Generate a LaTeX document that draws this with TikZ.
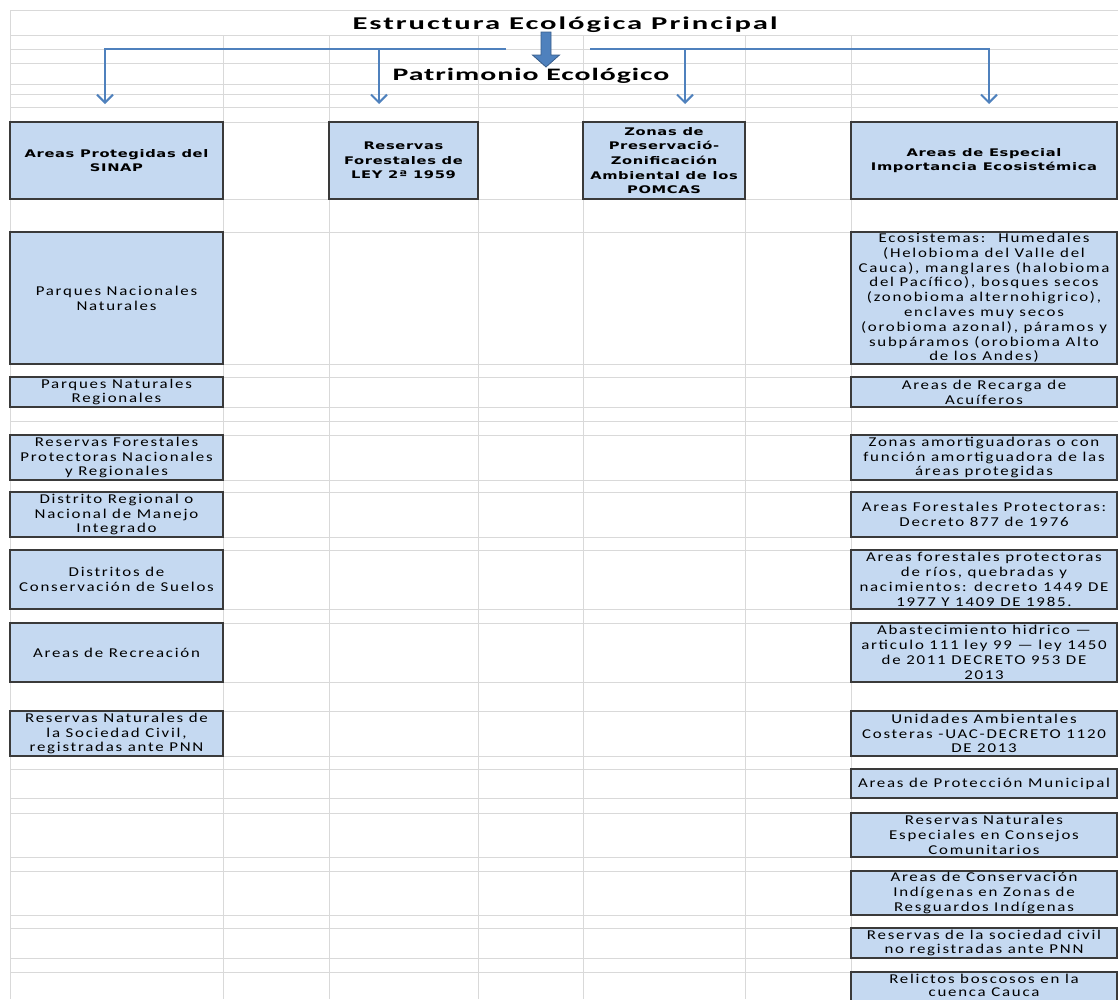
\documentclass[tikz,border=0pt]{standalone}
\usepackage{fontspec}
\usetikzlibrary{arrows.meta}
\newfontfamily\bodyfont[FakeStretch=1.25,LetterSpace=13]{Carlito}
\newfontfamily\headfont[FakeStretch=1.4,LetterSpace=6]{DejaVu Sans}
\newfontfamily\titlefont[FakeStretch=1.7,LetterSpace=11]{Carlito}
\newfontfamily\subtitlefont[FakeStretch=1.7,LetterSpace=5.5]{Carlito}
\definecolor{boxfill}{HTML}{C5D9F1}
\definecolor{boxline}{HTML}{3A3A3A}
\definecolor{gridc}{HTML}{D9D9D9}
\definecolor{connblue}{HTML}{4F81BD}
\definecolor{arrowdark}{HTML}{385D8A}
\begin{document}
\begin{tikzpicture}[x=1pt,y=-1pt,
  gridline/.style={gridc, line width=0.8pt},
  cell/.style={draw=boxline, fill=boxfill, line width=1.3pt, inner sep=0pt, outer sep=0pt, align=center, text=black},
  headcell/.style={cell, font=\headfont\bfseries\fontsize{10.5}{14.6}\selectfont},
  bodycell/.style={cell, font=\bodyfont\fontsize{13.5}{14.8}\selectfont},
  bodytext/.style={inner sep=0pt, align=center, text=black, font=\bodyfont\fontsize{13.5}{13.6}\selectfont},
  connector/.style={connblue, line width=2pt, -{Straight Barb[length=8pt,width=16pt]}}]
\useasboundingbox (0,0) rectangle (1118,999);
\clip (0,0) rectangle (1118,999);
% grid
\draw[gridline] (10,10) -- (1118,10);
\draw[gridline] (10,10) -- (10,999);
\foreach \y in {35,49,63,84,94,107,122,199,232,364,377,407,421,435,480,492,537,550,609,623,682,711,756,769,798,813,857,871,915,928,958,972}
  \draw[gridline] (10,\y) -- (1118,\y);
\foreach \x in {223,329,478,583,745,851}
  \draw[gridline] (\x,35) -- (\x,999);
% headers
\node[headcell, minimum width=213, minimum height=77] (h1) at (116.5,160.5) {Areas Protegidas del\\SINAP};
\node[headcell, minimum width=149, minimum height=77] (h2) at (403.5,160.5) {Reservas\\Forestales de\\LEY 2ª 1959};
\node[headcell, minimum width=162, minimum height=77] (h3) at (664,160.5) {Zonas de\\Preservació-\\Zonificación\\Ambiental de los\\POMCAS};
\node[headcell, minimum width=266, minimum height=77] (h4) at (984,160.5) {Areas de Especial\\Importancia Ecosistémica};
% left column
\node[bodycell, minimum width=213, minimum height=132] (l1) at (116.5,298) {Parques Nacionales\\Naturales};
\node[bodycell, minimum width=213, minimum height=30] (l2) at (116.5,392) {Parques Naturales\\Regionales};
\node[bodycell, minimum width=213, minimum height=45] (l3) at (116.5,457.5) {Reservas Forestales\\Protectoras Nacionales\\y Regionales};
\node[bodycell, minimum width=213, minimum height=45] (l4) at (116.5,514.5) {Distrito Regional o\\Nacional de Manejo\\Integrado};
\node[bodycell, minimum width=213, minimum height=59] (l5) at (116.5,579.5) {Distritos de\\Conservación de Suelos};
\node[bodycell, minimum width=213, minimum height=59] (l6) at (116.5,652.5) {Areas de Recreación};
\node[bodycell, minimum width=213, minimum height=45] (l7) at (116.5,733.5) {Reservas Naturales de\\la Sociedad Civil,\\registradas ante PNN};
% right column
\node[bodycell, minimum width=266, minimum height=132] (r1) at (984,298) {Ecosistemas:~ Humedales\\(Helobioma del Valle del\\Cauca), manglares (halobioma\\del Pacífico), bosques secos\\(zonobioma alternohigrico),\\enclaves muy secos\\(orobioma azonal), páramos y\\subpáramos (orobioma Alto\\de los Andes)};
\node[bodycell, minimum width=266, minimum height=30] (r2) at (984,392) {Areas de Recarga de\\Acuíferos};
\node[bodycell, minimum width=266, minimum height=45] (r3) at (984,457.5) {Zonas amortiguadoras o con\\función amortiguadora de las\\áreas protegidas};
\node[bodycell, minimum width=266, minimum height=45] (r4) at (984,514.5) {Areas Forestales Protectoras:\\Decreto 877 de 1976};
\node[bodycell, minimum width=266, minimum height=59] (r5) at (984,579.5) {Areas forestales protectoras\\de ríos, quebradas y\\nacimientos: decreto 1449 DE\\1977 Y 1409 DE 1985.};
\node[bodycell, minimum width=266, minimum height=59] (r6) at (984,652.5) {Abastecimiento hidrico —\\articulo 111 ley 99 — ley 1450\\de 2011 DECRETO 953 DE\\2013};
\node[bodycell, minimum width=266, minimum height=45] (r7) at (984,733.5) {Unidades Ambientales\\Costeras -UAC-DECRETO 1120\\DE 2013};
\node[bodycell, minimum width=266, minimum height=29] (r8) at (984,783.5) {Areas de Protección Municipal};
\node[bodycell, minimum width=266, minimum height=44] (r9) at (984,835) {Reservas Naturales\\Especiales en Consejos\\Comunitarios};
\node[bodycell, minimum width=266, minimum height=44] (r10) at (984,893) {Areas de Conservación\\Indígenas en Zonas de\\Resguardos Indígenas};
\node[bodycell, minimum width=266, minimum height=30] (r11) at (984,943) {Reservas de la sociedad civil\\no registradas ante PNN};
\node[cell, minimum width=266, minimum height=34] (r12) at (984,989) {};
\node[bodytext] (r12text) at (984,985.5) {Relictos boscosos en la\\cuenca Cauca};
% connectors
\coordinate (jl) at (506,49);
\coordinate (jr) at (590,49);
\coordinate (t1) at (105,104);
\coordinate (t2) at (379,104);
\coordinate (t3) at (685,104);
\coordinate (t4) at (989,104);
\draw[connector] (jl) -| (t1);
\draw[connector] (t2 |- jl) -- (t2);
\draw[connector] (jr) -| (t4);
\draw[connector] (t3 |- jr) -- (t3);
% big arrow
\draw[fill=connblue, draw=arrowdark, line width=0.8pt, line join=miter]
  (541,32) -- (551,32) -- (551,55) -- (559.5,55) -- (546,67) -- (532.5,55) -- (541,55) -- cycle;
% titles
\node[anchor=base, inner sep=0pt, font=\titlefont\bfseries\fontsize{18}{20}\selectfont] (title) at (565,29.5) {Estructura Ecológica Principal};
\node[anchor=base, inner sep=0pt, font=\subtitlefont\bfseries\fontsize{17.5}{20}\selectfont] (sub) at (531,80) {Patrimonio Ecológico};
\end{tikzpicture}
\end{document}
